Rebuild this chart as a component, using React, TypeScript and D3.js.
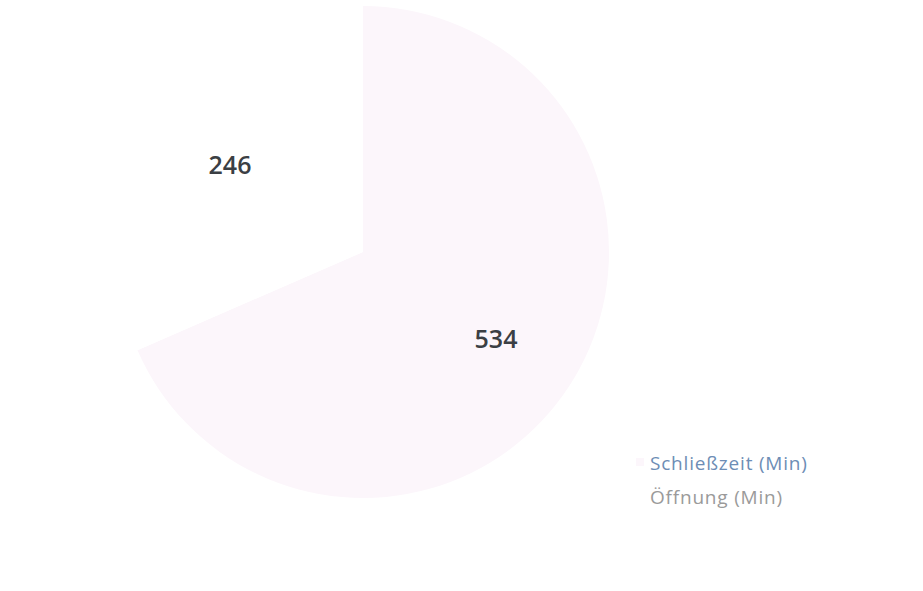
import React from "react";
import * as d3 from "d3";

const categories = ["Schließzeit (Min)", "Öffnung (Min)"];
const values = [534, 246];
const sliceColors = ["#fcf6fb", "#ffffff"];
const legendColors = ["#6d8db5", "#9a9a9a"];

export default function App() {
  const width = 923;
  const height = 591;
  const cx = 363;
  const cy = 252;
  const r = 246;
  const lr = 159;
  const pie = d3.pie<number>().sort(null).value((d) => d);
  const arcs = pie(values);
  const arc = d3.arc<d3.PieArcDatum<number>>().innerRadius(0).outerRadius(r);
  const lblPos = (a: d3.PieArcDatum<number>) => {
    const m = (a.startAngle + a.endAngle) / 2;
    return [Math.sin(m) * lr, -Math.cos(m) * lr];
  };
  return (
    <svg width={width} height={height} style={{ position: "absolute", left: 0, top: 0, background: "#fff" }}>
      <rect x={0} y={0} width={width} height={height} fill="#ffffff" />
      <g transform={`translate(${cx},${cy})`}>
        {arcs.map((a, i) => (
          <path key={i} d={arc(a) || ""} fill={sliceColors[i]} />
        ))}
        {arcs.map((a, i) => {
          const [x, y] = lblPos(a);
          return (
            <text
              key={"l" + i}
              x={x}
              y={y}
              dy="0.36em"
              textAnchor="middle"
              fontFamily="'Open Sans', sans-serif"
              fontWeight={600}
              fontSize={25}
              fill="#3b3f44"
            >
              {values[i]}
            </text>
          );
        })}
      </g>
      <g fontFamily="'Open Sans', sans-serif" fontSize={19} letterSpacing={0.8}>
        {categories.map((c, i) => (
          <g key={c} transform={`translate(650, ${463 + i * 34})`}>
            <rect x={-14} y={-5} width={8} height={8} fill={sliceColors[i]} />
            <text x={0} y={0} dy="0.35em" fill={legendColors[i]}>
              {c}
            </text>
          </g>
        ))}
      </g>
    </svg>
  );
}
